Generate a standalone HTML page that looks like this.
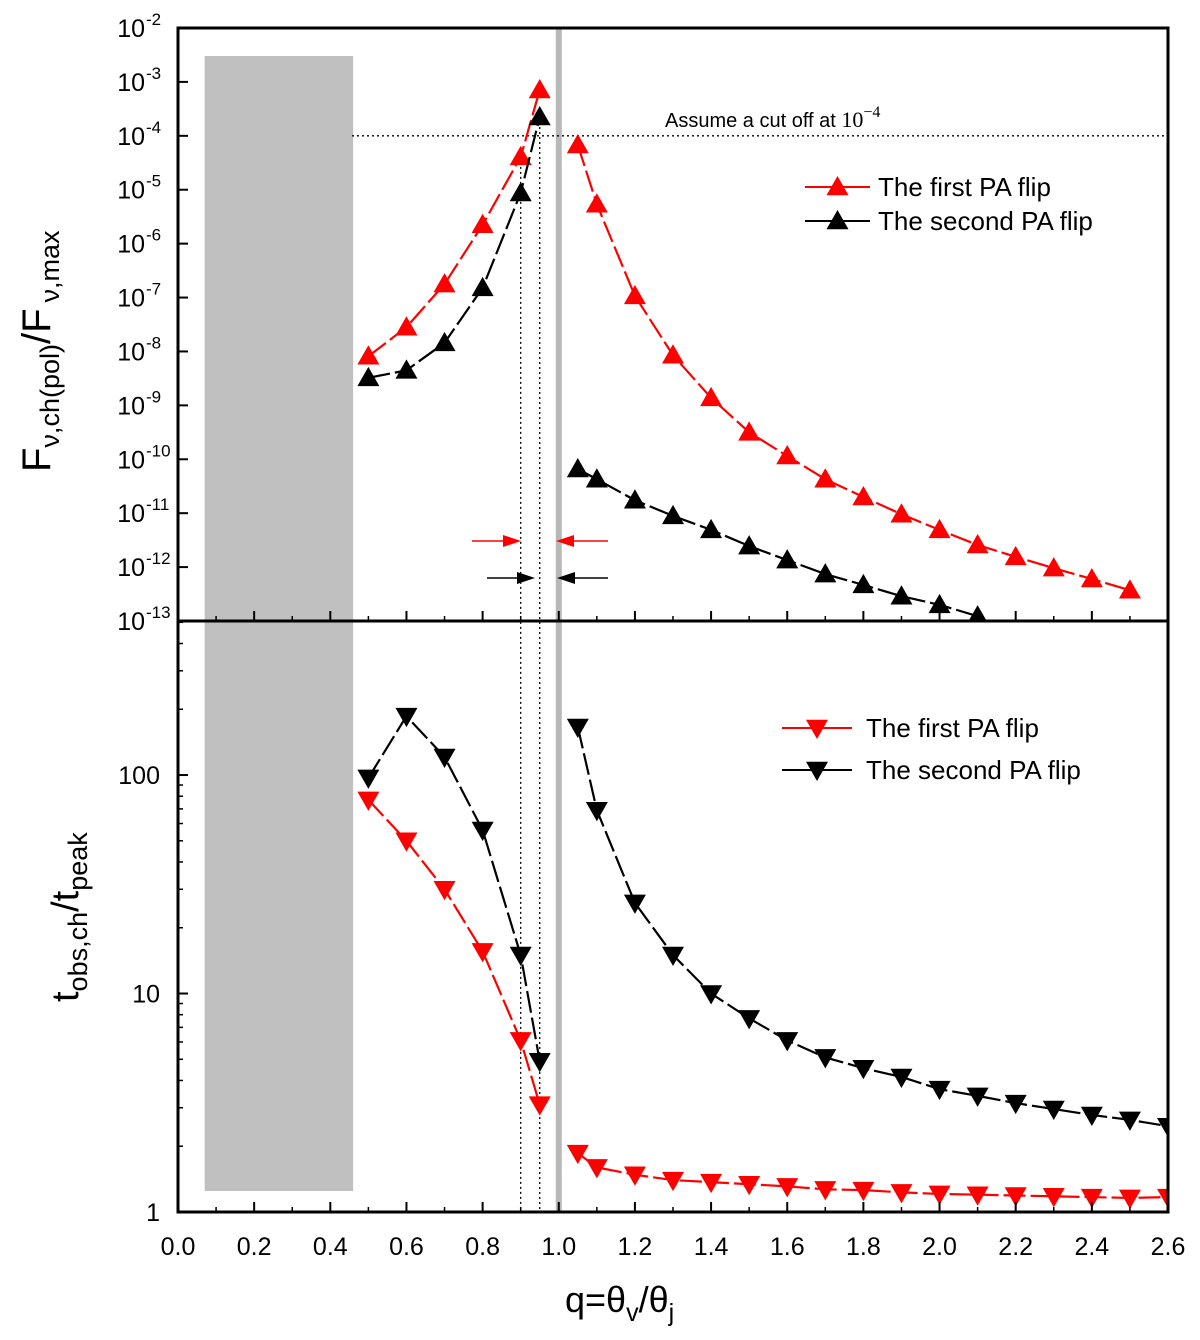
<!DOCTYPE html>
<html><head><meta charset="utf-8"><style>
body{margin:0;background:#fff}
svg{display:block;font-family:"Liberation Sans",Arial,sans-serif}
</style></head><body>
<svg id="chart" width="1200" height="1340" viewBox="0 0 1200 1340">
<g id="bg"></g>
<g id="marks"></g>
<g id="axes"></g>
</svg>
<script>
const qTopRed=[0.5,0.6,0.7,0.8,0.9,0.95,1.05,1.1,1.2,1.3,1.4,1.5,1.6,1.7,1.8,1.9,2.0,2.1,2.2,2.3,2.4,2.5];
const logFRed=[-8.09,-7.55,-6.75,-5.65,-4.39,-3.15,-4.17,-5.27,-6.97,-8.07,-8.86,-9.5,-9.94,-10.37,-10.7,-11.02,-11.31,-11.59,-11.81,-12.02,-12.22,-12.43];
const qTopBlack=[0.5,0.6,0.7,0.8,0.9,0.95,1.05,1.1,1.2,1.3,1.4,1.5,1.6,1.7,1.8,1.9,2.0,2.1];
const logFBlack=[-8.49,-8.35,-7.84,-6.82,-5.06,-3.65,-10.18,-10.37,-10.76,-11.05,-11.31,-11.61,-11.87,-12.13,-12.33,-12.54,-12.7,-12.91];
const qBot=[0.5,0.6,0.7,0.8,0.9,0.95,1.05,1.1,1.2,1.3,1.4,1.5,1.6,1.7,1.8,1.9,2.0,2.1,2.2,2.3,2.4,2.5,2.6];
const tRed=[77,50,30,15.6,6.1,3.1,1.86,1.6,1.48,1.4,1.37,1.34,1.31,1.27,1.26,1.23,1.21,1.2,1.19,1.18,1.17,1.16,1.17];
const tBlack=[97,186,121,56,15,4.9,166,69,26,15,10,7.7,6.1,5.1,4.55,4.15,3.65,3.4,3.15,2.96,2.78,2.64,2.47];
const xTicks=["0.0","0.2","0.4","0.6","0.8","1.0","1.2","1.4","1.6","1.8","2.0","2.2","2.4","2.6"];
const topExps=[-2,-3,-4,-5,-6,-7,-8,-9,-10,-11,-12,-13];
const botTicks=[1,10,100];

const L=178,R=1168,T=28,M=621,B=1212;
const X=q=>L+(q/2.6)*(R-L);
const YT=lg=>T+(-2-lg)*(M-T)/11;
const DEC=(B-M)/Math.log10(507);
const YB=v=>B-Math.log10(v)*DEC;
const NS="http://www.w3.org/2000/svg";
function mk(tag,attrs,parent){const e=document.createElementNS(NS,tag);for(const k in attrs)e.setAttribute(k,attrs[k]);parent.appendChild(e);return e;}
const bg=document.getElementById('bg'),mg=document.getElementById('marks'),ax=document.getElementById('axes');

let e;
e=mk('rect',{x:X(0.07),y:56,width:X(0.46)-X(0.07),height:1191-56,fill:'#c0c0c0'},bg);

e=mk('rect',{x:X(1.0)-3,y:T,width:6,height:B-T,fill:'#b8b8b8'},bg);

e=mk('line',{x1:352,y1:YT(-4),x2:R,y2:YT(-4),stroke:'#000','stroke-width':1.3,'stroke-dasharray':'2,3'},bg);

[0.9,0.95].forEach((q,i)=>{
 const l=mk('line',{x1:X(q),y1:i?YT(-3.65):YT(-4.39),x2:X(q),y2:B,stroke:'#000','stroke-width':1.3,'stroke-dasharray':'2,3'},bg);
 
});
e=mk('text',{x:665,y:127,'font-size':20},bg);e.textContent='Assume a cut off at ';

const tsp=mk('tspan',{'font-family':'Liberation Serif,serif','font-size':22},e);tsp.textContent='10';
const ts2=mk('tspan',{dy:-10,'font-size':16,'font-family':'Liberation Serif,serif'},e);ts2.textContent='−4';

function arrow(x1,x2,y,col){
 const g=mk('g',{},bg);
 
 const dir=x2>x1?1:-1;
 mk('line',{x1:x1,y1:y,x2:x2-dir*14,y2:y,stroke:col,'stroke-width':1.5},g);
 mk('polygon',{points:`${x2},${y} ${x2-dir*18},${y-6} ${x2-dir*18},${y+6}`,fill:col},g);
}
arrow(472,521,541,'#f00');arrow(608,556,541,'#f00');
arrow(487,535,578,'#000');arrow(608,557,578,'#000');

function tri(x,y,up,col,p){const s=11;
 const pts=up?`${x},${y-s} ${x-s},${y+s*0.75} ${x+s},${y+s*0.75}`:`${x},${y+s} ${x-s},${y-s*0.75} ${x+s},${y-s*0.75}`;
 return mk('polygon',{points:pts,fill:col},p);}
function series(qs,vals,fy,col,up,name,clip){
 const g=mk('g',{'clip-path':clip},mg);
 
 const segs=[[]];
 qs.forEach((q,i)=>{ if(i>0&&qs[i-1]<1&&q>1)segs.push([]); segs[segs.length-1].push([X(q),fy(vals[i])]);});
 segs.forEach(s=>{const p=mk('polyline',{points:s.map(a=>a.join(',')).join(' '),fill:'none',stroke:col,'stroke-width':2.2,'stroke-dasharray':'22,5'},g);
  });
 qs.forEach((q,i)=>{const t=tri(X(q),fy(vals[i]),up,col,g);
  });
}
const defs=mk('defs',{},mg);
const c1=mk('clipPath',{id:'ct'},defs);mk('rect',{x:L,y:T,width:R-L,height:M-T},c1);
const c2=mk('clipPath',{id:'cb'},defs);mk('rect',{x:L,y:M,width:R-L,height:B-M},c2);
series(qTopRed,logFRed,YT,'#f00',true,'top-first-flip-series','url(#ct)');
series(qTopBlack,logFBlack,YT,'#000',true,'top-second-flip-series','url(#ct)');
series(qBot,tRed,YB,'#f00',false,'bottom-first-flip-series','url(#cb)');
series(qBot,tBlack,YB,'#000',false,'bottom-second-flip-series','url(#cb)');

function legend(y,col,up,txt,x1,x2,tx){
 const g=mk('g',{},ax);
 mk('line',{x1:x1,y1:y,x2:x2,y2:y,stroke:col,'stroke-width':2},g);
 tri((x1+x2)/2,y,up,col,g);
 const t=mk('text',{x:tx,y:y+9,'font-size':26},g);t.textContent=txt;
}
legend(187,'#f00',true,'The first PA flip',805,870,878);
legend(221,'#000',true,'The second PA flip',805,870,878);
legend(728,'#f00',false,'The first PA flip',782,852,866);
legend(770,'#000',false,'The second PA flip',782,852,866);

[[T,M],[M,B]].forEach(([a,b])=>{const r=mk('rect',{x:L,y:a,width:R-L,height:b-a,fill:'none',stroke:'#000','stroke-width':3},ax);
 });
xTicks.forEach(s=>{const q=parseFloat(s),x=X(q);
 mk('line',{x1:x,y1:B,x2:x,y2:B-10,stroke:'#000','stroke-width':2},ax);
 mk('line',{x1:x,y1:M,x2:x,y2:M-10,stroke:'#000','stroke-width':2},ax);
 if(q<2.6){const xm=X(q+0.1);mk('line',{x1:xm,y1:B,x2:xm,y2:B-5,stroke:'#000','stroke-width':1.5},ax);mk('line',{x1:xm,y1:M,x2:xm,y2:M-5,stroke:'#000','stroke-width':1.5},ax);}
 const t=mk('text',{x:x,y:1255,'font-size':25,'text-anchor':'middle'},ax);t.textContent=s;
 
});
topExps.forEach(ex=>{const y=YT(ex);
 mk('line',{x1:L,y1:y,x2:L+10,y2:y,stroke:'#000','stroke-width':2},ax);
 const t=mk('text',{x:145,y:y+9,'font-size':25,'text-anchor':'end'},ax);t.textContent='10';
 
 const s=mk('text',{x:146,y:y-3,'font-size':17},ax);s.textContent=String(ex);
});
botTicks.forEach(v=>{const y=YB(v);
 mk('line',{x1:L,y1:y,x2:L+10,y2:y,stroke:'#000','stroke-width':2},ax);
 const t=mk('text',{x:160,y:y+9,'font-size':25,'text-anchor':'end'},ax);t.textContent=String(v);
 
 for(let k=2;k<10;k++){const ym=YB(v*k);if(ym>M)mk('line',{x1:L,y1:ym,x2:L+5,y2:ym,stroke:'#000','stroke-width':1.5},ax);}
});
</script>
<svg style="position:absolute;left:0;top:0" width="1200" height="1340">
<text transform="translate(50,472) rotate(-90)" font-family="Liberation Sans,sans-serif" font-size="40">F<tspan font-size="27" dy="9">ν,ch(pol)</tspan><tspan dy="-9">/F</tspan><tspan font-size="27" dy="9" dx="6">ν,max</tspan></text>
<text transform="translate(78,1002) rotate(-90)" font-family="Liberation Sans,sans-serif" font-size="38">t<tspan font-size="27" dy="9">obs,ch</tspan><tspan dy="-9">/t</tspan><tspan font-size="27" dy="9">peak</tspan></text>
<text x="565" y="1312" font-family="Liberation Sans,sans-serif" font-size="36">q=θ<tspan font-size="25" dy="9">v</tspan><tspan dy="-9">/θ</tspan><tspan font-size="25" dy="9">j</tspan></text>
</svg>
</body></html>
